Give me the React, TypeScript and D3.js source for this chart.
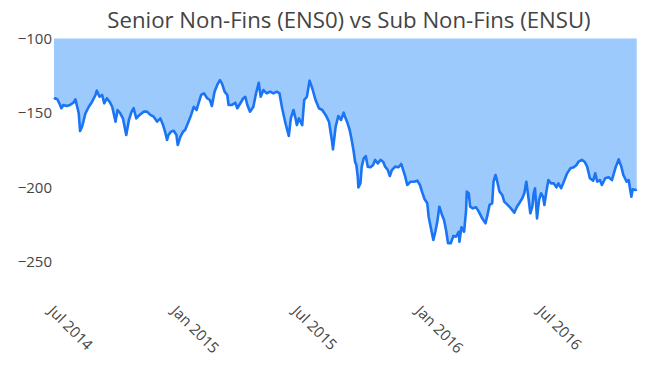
import React from "react";
import * as d3 from "d3";

const title = "Senior Non-Fins (ENS0) vs Sub Non-Fins (ENSU)";
const baseDate = "2014-07-01";
// days after baseDate
const dayOffsets = [
  4, 6, 9, 12, 15, 18, 23, 28, 33, 36, 38, 41, 43, 46, 51, 56, 61, 66, 68, 72,
  76, 79, 83, 87, 91, 96, 99, 103, 107, 112, 116, 120, 123, 127, 132, 138, 143, 148, 153, 158,
  163, 167, 170, 173, 175, 179, 183, 187, 189, 193, 197, 200, 205, 209, 213, 217, 220, 224, 228, 233,
  237, 240, 244, 248, 252, 255, 259, 263, 265, 270, 275, 278, 281, 287, 290, 293, 297, 302, 306, 310,
  313, 317, 322, 327, 332, 337, 341, 345, 350, 355, 358, 362, 365, 367, 370, 375, 378, 382, 386, 390,
  395, 400, 405, 410, 415, 417, 420, 421, 425, 429, 433, 437, 439, 442, 446, 449, 452, 454, 456, 458,
  459, 462, 464, 467, 470, 473, 477, 481, 484, 488, 492, 496, 499, 503, 506, 509, 514, 519, 523, 526,
  529, 532, 537, 542, 547, 551, 554, 558, 562, 564, 567, 571, 574, 577, 580, 584, 587, 590, 593, 597,
  601, 605, 609, 610, 613, 617, 620, 621, 624, 626, 630, 635, 639, 644, 649, 652, 655, 659, 661, 664,
  666, 670, 674, 677, 682, 687, 692, 696, 700, 704, 707, 710, 713, 716, 719, 721, 723, 726, 729, 732,
  735, 737, 740, 743, 747, 751, 755, 758, 762, 766, 771, 776, 781, 785, 788, 793, 797, 801, 805, 810,
  813, 816, 820, 823, 828, 833, 838, 843, 848, 852, 855, 860, 863, 867, 869, 873, 875,
];
const spreadDiff = [
  -140.8, -140.1, -140.8, -143.5, -146.8, -144.6, -145.3, -144.6, -143.1, -140.8, -144.6, -150.2, -162.1, -159.2, -150.2, -145.8, -142.4, -137.9, -135.0, -139.1,
  -137.9, -143.5, -140.1, -142.4, -145.8, -155.8, -148.0, -150.2, -153.6, -164.8, -154.7, -149.1, -146.8, -153.6, -151.3, -149.1, -149.1, -151.3, -152.5, -155.8,
  -153.6, -158.1, -162.5, -168.1, -164.8, -162.5, -161.9, -164.8, -171.5, -165.9, -162.5, -161.4, -155.8, -151.3, -145.8, -148.0, -143.5, -137.9, -136.8, -140.1,
  -141.3, -145.3, -135.7, -131.2, -127.9, -130.1, -135.7, -137.9, -144.6, -144.6, -143.1, -146.8, -144.6, -140.1, -139.1, -144.6, -149.1, -145.8, -136.8, -129.7,
  -139.1, -134.6, -136.8, -135.7, -136.8, -135.7, -136.8, -146.8, -156.9, -165.4, -153.6, -148.0, -153.6, -158.1, -153.6, -158.1, -141.3, -139.1, -128.3, -133.4,
  -141.3, -146.8, -148.0, -151.3, -155.8, -161.4, -170.3, -174.4, -159.2, -152.0, -154.7, -149.8, -152.5, -155.8, -161.4, -168.1, -176.0, -182.7, -184.9, -192.7,
  -199.9, -197.2, -186.0, -180.4, -178.9, -186.0, -186.4, -184.9, -181.5, -183.8, -181.5, -182.7, -186.0, -188.3, -192.3, -188.3, -186.0, -186.4, -184.2, -188.3,
  -192.7, -198.3, -196.1, -196.1, -195.4, -198.3, -202.8, -207.9, -210.6, -219.6, -226.3, -235.2, -229.7, -222.9, -212.9, -218.4, -221.8, -228.5, -237.4, -237.4,
  -232.5, -233.0, -229.7, -236.4, -226.7, -229.7, -215.1, -202.8, -203.9, -212.9, -214.0, -213.3, -216.2, -220.7, -224.0, -218.4, -211.7, -210.6, -196.1, -191.6,
  -195.0, -202.8, -205.0, -209.5, -211.7, -214.0, -216.9, -212.9, -210.2, -207.2, -203.9, -196.1, -206.2, -217.3, -212.9, -203.9, -200.5, -220.7, -208.4, -203.9,
  -206.2, -211.7, -202.8, -195.0, -197.2, -197.2, -199.9, -197.2, -200.5, -196.1, -190.5, -187.1, -186.4, -184.9, -182.7, -181.5, -182.7, -186.0, -193.8, -195.4,
  -190.5, -196.1, -195.0, -198.3, -193.8, -193.1, -195.0, -187.1, -181.1, -186.0, -191.6, -196.1, -195.0, -206.2, -201.2, -201.7, -201.2,
];
const fillBase = -100;
const yTicks = [-100, -150, -200, -250];
const xTickDates = ["2014-07-01", "2015-01-01", "2015-07-01", "2016-01-01", "2016-07-01"];

const W = 649;
const H = 378;
const FONT = "'Open Sans', 'Noto Sans', sans-serif";

export default function App() {
  const base = new Date(baseDate + "T00:00:00Z");
  const data = dayOffsets.map((d, i) => ({
    date: d3.utcDay.offset(base, d),
    v: spreadDiff[i],
  }));
  const x = d3
    .scaleUtc()
    .domain(d3.extent(data, (d) => d.date) as [Date, Date])
    .range([54, 636.7]);
  const y = d3.scaleLinear().domain([-100, -250]).range([38.5, 262]);

  const area = d3
    .area<{ date: Date; v: number }>()
    .x((d) => x(d.date))
    .y0(() => y(fillBase))
    .y1((d) => y(d.v));
  const line = d3
    .line<{ date: Date; v: number }>()
    .x((d) => x(d.date))
    .y((d) => y(d.v));

  const fmt = d3.utcFormat("%b %Y");

  return (
    <svg
      width={W}
      height={H}
      style={{ position: "absolute", left: 0, top: 0, background: "#fff" }}
    >
      <text
        x={349}
        y={28}
        textAnchor="middle"
        fontFamily={FONT}
        fontSize={22.2}
        fill="#444"
      >
        {title}
      </text>
      <path d={area(data) || ""} fill="#9ccafd" stroke="none" />
      <path
        d={line(data) || ""}
        fill="none"
        stroke="#1a74f4"
        strokeWidth={2.6}
        strokeLinejoin="round"
      />
      {yTicks.map((t) => (
        <text
          key={t}
          x={52}
          y={y(t)}
          dy="0.36em"
          textAnchor="end"
          fontFamily={FONT}
          fontSize={15}
          fill="#444"
        >
          {"\u2212" + Math.abs(t)}
        </text>
      ))}
      {xTickDates.map((s) => {
        const dt = new Date(s + "T00:00:00Z");
        const tx = x(dt);
        return (
          <text
            key={s}
            transform={`translate(${tx - 4},${312}) rotate(45)`}
            textAnchor="start"
            fontFamily={FONT}
            fontSize={15}
            fill="#444"
          >
            {fmt(dt)}
          </text>
        );
      })}
    </svg>
  );
}
